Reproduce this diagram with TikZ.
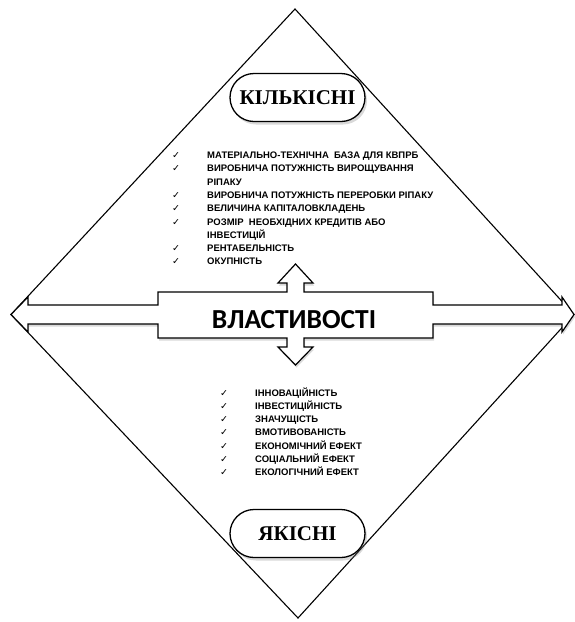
\documentclass[tikz,border=0pt]{standalone}
\usepackage{fontspec}
\setmainfont{Liberation Serif}
\newfontfamily\arialfont{Liberation Sans}
\newfontfamily\calibrifont{Carlito}
\newfontfamily\tickfont{DejaVu Sans}
\usetikzlibrary{shadows}
\newcommand{\chk}{{\tickfont\fontsize{9.5}{9.5}\selectfont ✓}}

\begin{document}
\begin{tikzpicture}[x=1pt, y=-1pt,
    pill/.style={draw, line width=1.3pt, fill=white, rounded corners=24pt,
        minimum width=135pt, minimum height=48pt, inner sep=0pt,
        font=\bfseries\fontsize{21}{21}\selectfont,
        drop shadow={shadow xshift=2pt, shadow yshift=-3pt, opacity=0.3}},
    items/.style={anchor=north west, inner sep=0pt,
        font=\arialfont\bfseries\fontsize{9.5}{13.3}\selectfont}]
            \useasboundingbox (0,0) rectangle (575,622);
            % outer diamond
            \draw[line width=1.1pt] (295,9) -- (11,314.5) -- (298,618) -- (574,314.5) -- cycle;
            % four-way arrow
            \draw[fill=white, line width=1.2pt, drop shadow={shadow xshift=1pt, shadow yshift=-2.5pt, opacity=0.3}]
                (11,314.5) -- (28,297) -- (28,305) -- (158,305) -- (158,292) -- (287,292)
                -- (287,283) -- (278,283) -- (295.5,264) -- (313,283) -- (304,283) -- (304,292)
                -- (433,292) -- (433,305) -- (562,305) -- (562,297) -- (574,314.5) -- (562,332)
                -- (562,324) -- (433,324) -- (433,338) -- (304,338) -- (304,347) -- (313,347)
                -- (295.5,365) -- (278,347) -- (287,347) -- (287,338) -- (158,338) -- (158,324)
                -- (28,324) -- (28,332) -- cycle;
            \draw (294,328) node[anchor=base, inner sep=0pt, font=\calibrifont\bfseries\fontsize{27.5}{27.5}\selectfont] (props) {ВЛАСТИВОСТІ};
            \draw (297.5,97.5) node[pill] (quant) {КІЛЬКІСНІ};
            \draw (297.5,533.5) node[pill] (qual) {ЯКІСНІ};
            \draw (172,149) node[items] (quantlist) {\begin{tabular}{@{}p{35pt}@{}l@{}}
                \chk & МАТЕРІАЛЬНО-ТЕХНІЧНА\ \ БАЗА ДЛЯ КВПРБ\\
                \chk & ВИРОБНИЧА ПОТУЖНІСТЬ ВИРОЩУВАННЯ\\
                     & РІПАКУ\\
                \chk & ВИРОБНИЧА ПОТУЖНІСТЬ ПЕРЕРОБКИ РІПАКУ\\
                \chk & ВЕЛИЧИНА КАПІТАЛОВКЛАДЕНЬ\\
                \chk & РОЗМІР\ \ НЕОБХІДНИХ КРЕДИТІВ АБО\\
                     & ІНВЕСТИЦІЙ\\
                \chk & РЕНТАБЕЛЬНІСТЬ\\
                \chk & ОКУПНІСТЬ
            \end{tabular}};
            \draw (220,386.5) node[items] (quallist) {\begin{tabular}{@{}p{35pt}@{}l@{}}
                \chk & ІННОВАЦІЙНІСТЬ\\
                \chk & ІНВЕСТИЦІЙНІСТЬ\\
                \chk & ЗНАЧУЩІСТЬ\\
                \chk & ВМОТИВОВАНІСТЬ\\
                \chk & ЕКОНОМІЧНИЙ ЕФЕКТ\\
                \chk & СОЦІАЛЬНИЙ ЕФЕКТ\\
                \chk & ЕКОЛОГІЧНИЙ ЕФЕКТ
            \end{tabular}};
\end{tikzpicture}
\end{document}
